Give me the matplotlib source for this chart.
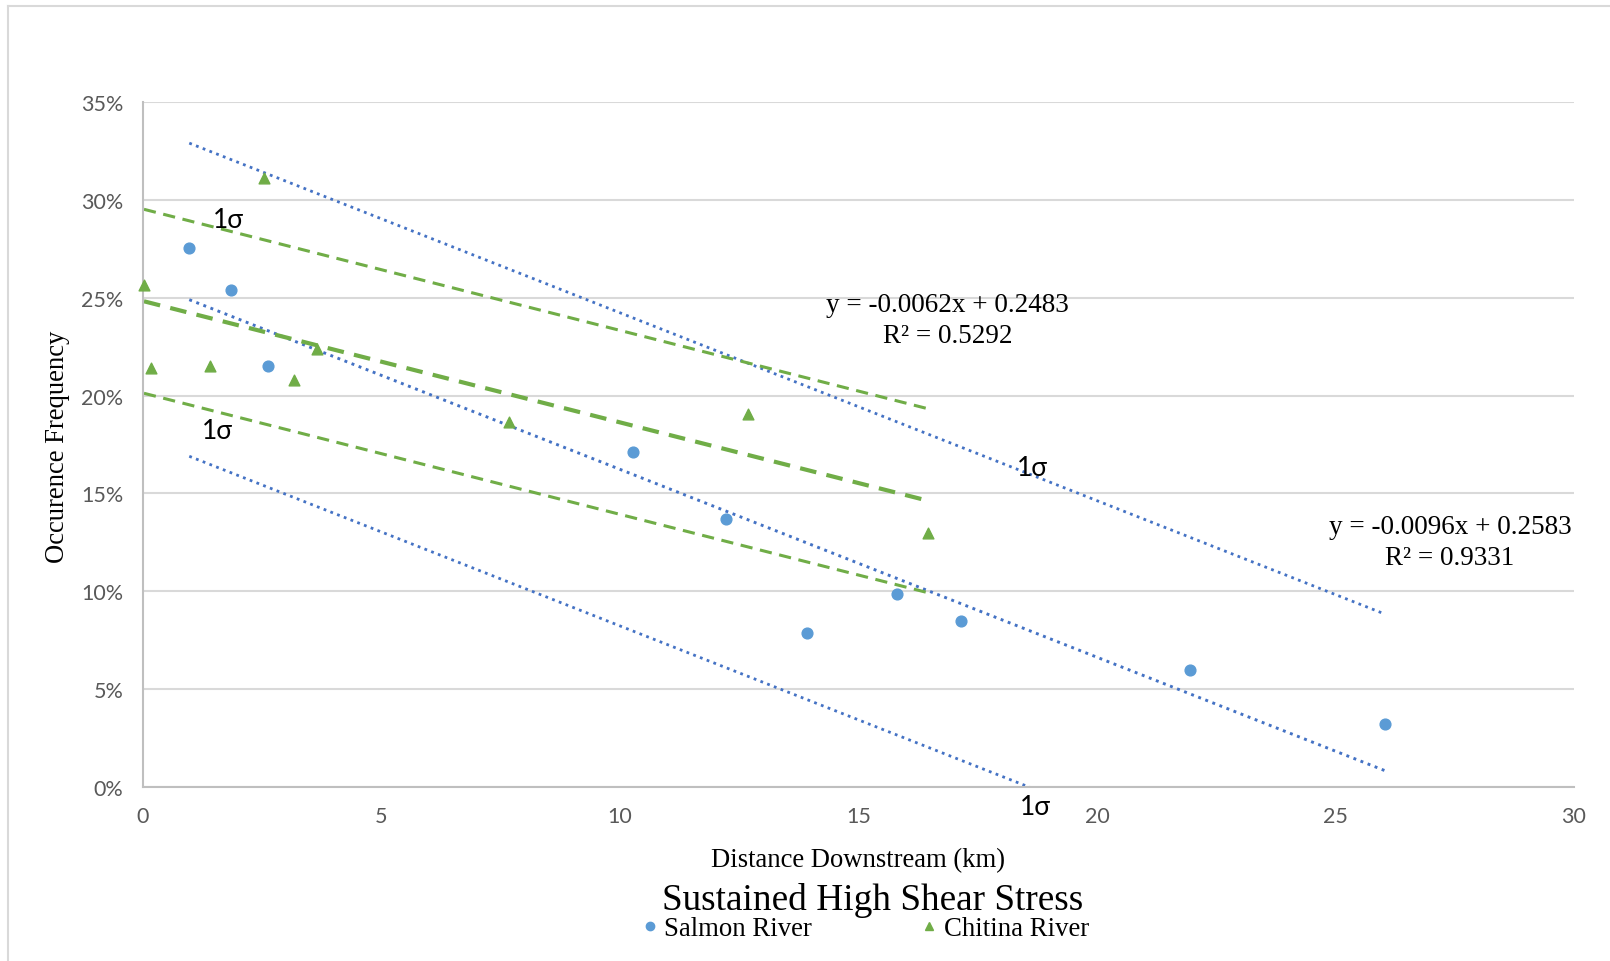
import matplotlib
matplotlib.use("Agg")
import matplotlib.pyplot as plt
from matplotlib.lines import Line2D
import numpy as np

# ---- data ----
salmon_x = [0.97, 1.85, 2.63, 10.27, 12.23, 13.93, 15.81, 17.14, 21.95, 26.04]
salmon_y = [0.2755, 0.254, 0.215, 0.171, 0.137, 0.0786, 0.0985, 0.0849, 0.0597, 0.032]
chitina_x = [0.02, 0.17, 1.40, 2.54, 3.17, 3.64, 7.67, 12.69, 16.45]
chitina_y = [0.2567, 0.214, 0.215, 0.311, 0.208, 0.224, 0.1865, 0.1907, 0.130]

salmon_fit = (-0.0096, 0.2583)   # slope, intercept
chitina_fit = (-0.0062, 0.2483)
salmon_sigma = 0.080
chitina_sigma = 0.047

salmon_eq = "y = -0.0096x + 0.2583\nR² = 0.9331"
chitina_eq = "y = -0.0062x + 0.2483\nR² = 0.5292"

x_ticks = [0, 5, 10, 15, 20, 25, 30]
y_ticks = [0, 0.05, 0.10, 0.15, 0.20, 0.25, 0.30, 0.35]

title = "Sustained High Shear Stress"
xlabel = "Distance Downstream (km)"
ylabel = "Occurence Frequency"

BLUE = "#5B9BD5"
BLUE_LINE = "#4472C4"
GREEN = "#70AD47"
GRID = "#D9D9D9"
TICK = "#595959"
SERIF = "Liberation Serif"
SANS = "Lato"

fig = plt.figure(figsize=(16.1, 9.62), dpi=100)
ax = fig.add_axes([143/1610, 1-788/962, (1574-143)/1610, (788-103)/962])

# chart border (top and left edges)
fig.add_artist(Line2D([8/1610, 8/1610], [0, 1-7/962], color=GRID, lw=1.5, transform=fig.transFigure))
fig.add_artist(Line2D([8/1610, 1], [1-7/962, 1-7/962], color=GRID, lw=1.5, transform=fig.transFigure))

ax.set_xlim(0, 30)
ax.set_ylim(0, 0.35)
ax.set_xticks(x_ticks)
ax.set_yticks(y_ticks)
ax.set_xticklabels([str(t) for t in x_ticks], fontfamily=SANS, fontsize=15.5, color=TICK)
ax.set_yticklabels([f"{t*100:.0f}%" for t in y_ticks], fontfamily=SANS, fontsize=15.5, color=TICK)
ax.tick_params(axis="y", length=0, pad=14)
ax.tick_params(axis="x", length=0, pad=14)
ax.grid(axis="y", color=GRID, lw=1.5)
ax.set_axisbelow(True)
for s in ["top", "right"]:
    ax.spines[s].set_visible(False)
for s in ["left", "bottom"]:
    ax.spines[s].set_color("#BFBFBF")
    ax.spines[s].set_linewidth(1.5)

dot = (0, (1, 1.6))
dash = (0, (4, 2.5))

# salmon trendline and sigma bands
sx = np.array([min(salmon_x), max(salmon_x)])
sy = salmon_fit[0]*sx + salmon_fit[1]
ax.plot(sx, sy, color=BLUE_LINE, lw=2.1, ls=dot, zorder=2)
ax.plot(sx, sy + salmon_sigma, color=BLUE_LINE, lw=2.0, ls=dot, zorder=2)
ax.plot(sx, sy - salmon_sigma, color=BLUE_LINE, lw=2.0, ls=dot, zorder=2)

# chitina trendline and sigma bands
cx = np.array([min(chitina_x), max(chitina_x)])
cy = chitina_fit[0]*cx + chitina_fit[1]
ax.plot(cx, cy, color=GREEN, lw=3.0, ls=dash, zorder=2)
ax.plot(cx, cy + chitina_sigma, color=GREEN, lw=2.2, ls=dash, zorder=2)
ax.plot(cx, cy - chitina_sigma, color=GREEN, lw=2.2, ls=dash, zorder=2)

ax.scatter(salmon_x, salmon_y, s=60, color=BLUE, marker="o", zorder=3, clip_on=False, label="Salmon River")
ax.scatter(chitina_x, chitina_y, s=60, color=GREEN, marker="^", zorder=3, clip_on=False, label="Chitina River")

# equations
ax.text(16.87, 0.2387, chitina_eq, fontfamily=SERIF, fontsize=19.5, ha="center", va="center",
        multialignment="center", linespacing=1.3)
ax.text(27.4, 0.1252, salmon_eq, fontfamily=SERIF, fontsize=19.5, ha="center", va="center",
        multialignment="center", linespacing=1.3)

# sigma labels
for (tx, ty) in [(1.78, 0.290), (1.57, 0.182), (18.65, 0.163), (18.71, -0.0102)]:
    ax.text(tx, ty, "1σ", fontfamily=SANS, fontsize=19, ha="center", va="center", clip_on=False)

fig.text(58/1610, 1-447/962, ylabel, rotation=90, fontfamily=SERIF, fontsize=19.2, ha="center", va="center")
fig.text(858/1610, 1-861/962, xlabel, fontfamily=SERIF, fontsize=19.2, ha="center", va="center")
fig.text(873/1610, 1-901/962, title, fontfamily=SERIF, fontsize=26.8, ha="center", va="center")

handles = [Line2D([], [], marker="o", color=BLUE, ls="none", markersize=6),
           Line2D([], [], marker="^", color=GREEN, ls="none", markersize=6)]
fig.legend(handles, ["Salmon River", "Chitina River"], loc="center", bbox_to_anchor=(866/1610, 1-930/962),
           ncol=2, frameon=False, prop={"family": SERIF, "size": 19.3}, handlelength=0.5,
           handletextpad=0.3, columnspacing=4.1, borderpad=0)

fig.savefig("out.png", dpi=100)
